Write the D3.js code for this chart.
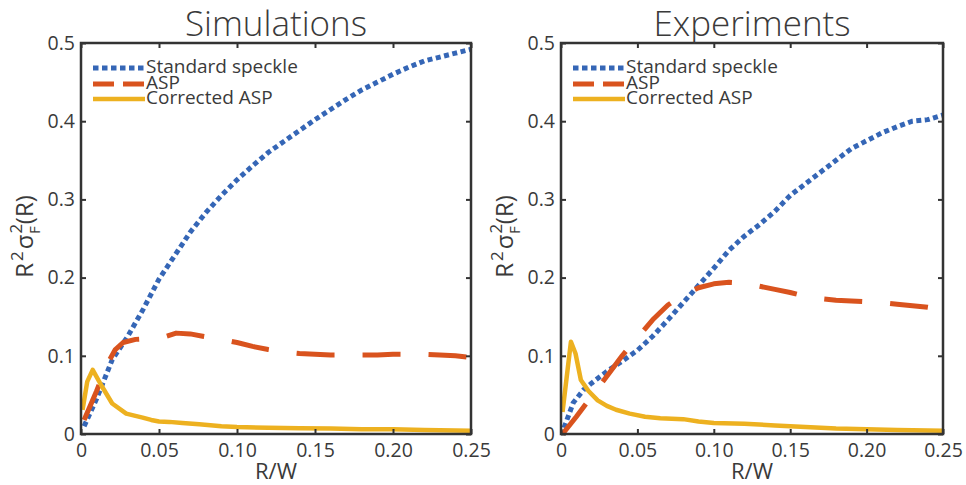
<!DOCTYPE html>
<html>
<head>
<meta charset="utf-8">
<script src="https://cdn.jsdelivr.net/npm/d3@7/dist/d3.min.js"></script>
<style>
  html, body { margin: 0; padding: 0; background: #ffffff; }
  svg { display: block; }
  text { font-family: "Open Sans", "Noto Sans", sans-serif; fill: #3a3a3a; }
</style>
</head>
<body>
<svg id="chart" width="966" height="485"></svg>
<script>
// ---- axis ticks ----
const xTickValues = [0, 0.05, 0.10, 0.15, 0.20, 0.25];
const xTickLabels = ["0", "0.05", "0.10", "0.15", "0.20", "0.25"];
const yTickValues = [0, 0.1, 0.2, 0.3, 0.4, 0.5];
const yTickLabels = ["0", "0.1", "0.2", "0.3", "0.4", "0.5"];

const seriesNames = ["Standard speckle", "ASP", "Corrected ASP"];
const panelTitles = ["Simulations", "Experiments"];

// ---- Simulations ----
const simSpeckleX = [0.002, 0.01, 0.02, 0.03, 0.04, 0.05, 0.06, 0.07, 0.08, 0.09, 0.10, 0.11, 0.12, 0.13, 0.14, 0.15, 0.16, 0.17, 0.18, 0.19, 0.20, 0.21, 0.22, 0.23, 0.24, 0.25];
const simSpeckleY = [0.010, 0.045, 0.095, 0.125, 0.160, 0.198, 0.228, 0.258, 0.283, 0.305, 0.325, 0.343, 0.360, 0.374, 0.388, 0.402, 0.415, 0.428, 0.440, 0.450, 0.460, 0.469, 0.477, 0.482, 0.487, 0.492];

const simAspX = [0.002, 0.010, 0.017, 0.022, 0.027, 0.035, 0.045, 0.053, 0.061, 0.07, 0.078, 0.09, 0.10, 0.11, 0.12, 0.13, 0.14, 0.15, 0.16, 0.17, 0.18, 0.19, 0.20, 0.21, 0.22, 0.23, 0.24, 0.25];
const simAspY = [0.018, 0.055, 0.090, 0.108, 0.117, 0.121, 0.122, 0.124, 0.129, 0.128, 0.125, 0.121, 0.117, 0.112, 0.108, 0.105, 0.103, 0.102, 0.101, 0.101, 0.101, 0.101, 0.102, 0.102, 0.102, 0.101, 0.100, 0.098];

const simCorrX = [0.001, 0.004, 0.0075, 0.0128, 0.020, 0.029, 0.0395, 0.045, 0.050, 0.0566, 0.065, 0.0758, 0.09, 0.10, 0.12, 0.14, 0.16, 0.18, 0.20, 0.22, 0.25];
const simCorrY = [0.031, 0.067, 0.082, 0.063, 0.039, 0.026, 0.021, 0.018, 0.016, 0.0155, 0.014, 0.0124, 0.010, 0.009, 0.008, 0.0075, 0.007, 0.006, 0.006, 0.005, 0.004];

// ---- Experiments ----
const expSpeckleX = [0.002, 0.008, 0.015, 0.02, 0.03, 0.04, 0.05, 0.06, 0.07, 0.08, 0.09, 0.10, 0.11, 0.12, 0.13, 0.14, 0.15, 0.16, 0.17, 0.18, 0.19, 0.20, 0.21, 0.22, 0.23, 0.24, 0.25];
const expSpeckleY = [0.008, 0.040, 0.057, 0.065, 0.080, 0.093, 0.107, 0.125, 0.146, 0.168, 0.190, 0.212, 0.235, 0.253, 0.268, 0.285, 0.305, 0.320, 0.335, 0.350, 0.365, 0.375, 0.385, 0.393, 0.400, 0.402, 0.408];

const expAspX = [0.001, 0.01, 0.02, 0.03, 0.04, 0.05, 0.06, 0.07, 0.08, 0.09, 0.10, 0.11, 0.12, 0.13, 0.14, 0.15, 0.16, 0.17, 0.18, 0.19, 0.20, 0.21, 0.22, 0.23, 0.24, 0.25];
const expAspY = [0.000, 0.022, 0.048, 0.074, 0.100, 0.123, 0.146, 0.165, 0.178, 0.187, 0.192, 0.194, 0.193, 0.189, 0.185, 0.181, 0.176, 0.173, 0.171, 0.170, 0.169, 0.168, 0.166, 0.164, 0.162, 0.159];

const expCorrX = [0.001, 0.0065, 0.0095, 0.013, 0.018, 0.024, 0.030, 0.036, 0.045, 0.055, 0.065, 0.080, 0.09, 0.10, 0.12, 0.14, 0.16, 0.18, 0.20, 0.22, 0.25];
const expCorrY = [0.028, 0.118, 0.103, 0.069, 0.055, 0.043, 0.036, 0.031, 0.026, 0.022, 0.020, 0.019, 0.016, 0.014, 0.013, 0.011, 0.009, 0.007, 0.006, 0.005, 0.004];

const zip = (xs, ys) => xs.map((x, i) => [x, ys[i]]);

// line styles per series
const styles = [
  { color: "#3566b6", width: 5, dash: "5,3.5", legendDash: "5.5,3.5" },
  { color: "#d9531e", width: 5, dash: "38,28", legendDash: "21,9" },
  { color: "#edb120", width: 4.5, dash: null, legendDash: null }
];

const panels = [
  { title: panelTitles[0], x0: 81, x1: 471, series: [zip(simSpeckleX, simSpeckleY), zip(simAspX, simAspY), zip(simCorrX, simCorrY)] },
  { title: panelTitles[1], x0: 561, x1: 943, series: [zip(expSpeckleX, expSpeckleY), zip(expAspX, expAspY), zip(expCorrX, expCorrY)] }
];

const yTop = 43, yBottom = 434;
const svg = d3.select("#chart");

panels.forEach((p, pi) => {
  const x = d3.scaleLinear().domain([0, 0.25]).range([p.x0, p.x1]);
  const y = d3.scaleLinear().domain([0, 0.5]).range([yBottom, yTop]);
  const g = svg.append("g");

  // data lines
  const line = d3.line().x(d => x(d[0])).y(d => y(d[1]));
  p.series.forEach((s, si) => {
    const st = styles[si];
    g.append("path")
      .datum(s)
      .attr("d", line)
      .attr("fill", "none")
      .attr("stroke", st.color)
      .attr("stroke-width", st.width)
      .attr("stroke-linejoin", "round")
      .attr("stroke-dasharray", st.dash);
  });

  // axes: ticks point inward on all four sides
  const tick = 5;
  const axisStyle = sel => {
    sel.select(".domain").remove();
    sel.selectAll(".tick line").attr("stroke", "#333").attr("stroke-width", 2);
    sel.selectAll(".tick text")
      .style("font-family", "'Open Sans', sans-serif")
      .style("font-size", "19.5px")
      .attr("fill", "#3a3a3a");
  };
  g.append("g").attr("transform", `translate(0,${yBottom})`)
    .call(d3.axisBottom(x).tickValues(xTickValues).tickSize(-tick).tickPadding(9)
      .tickFormat((d, i) => xTickLabels[i]))
    .call(axisStyle);
  g.append("g").attr("transform", `translate(0,${yTop})`)
    .call(d3.axisTop(x).tickValues(xTickValues).tickSize(-tick).tickFormat(""))
    .call(axisStyle);
  g.append("g").attr("transform", `translate(${p.x0},0)`)
    .call(d3.axisLeft(y).tickValues(yTickValues).tickSize(-tick).tickPadding(6)
      .tickFormat((d, i) => yTickLabels[i]))
    .call(axisStyle);
  g.append("g").attr("transform", `translate(${p.x1},0)`)
    .call(d3.axisRight(y).tickValues(yTickValues).tickSize(-tick).tickFormat(""))
    .call(axisStyle);

  // plot box
  g.append("rect")
    .attr("x", p.x0).attr("y", yTop)
    .attr("width", p.x1 - p.x0).attr("height", yBottom - yTop)
    .attr("fill", "none").attr("stroke", "#333").attr("stroke-width", 2.5);

  const cx = (p.x0 + p.x1) / 2;

  // title
  g.append("text")
    .attr("x", cx).attr("y", 36)
    .attr("text-anchor", "middle")
    .style("font-size", "35px").style("font-weight", 300)
    .attr("fill", "#222")
    .text(p.title);

  // x label
  g.append("text")
    .attr("x", cx).attr("y", 479)
    .attr("text-anchor", "middle")
    .style("font-size", "22px")
    .text("R/W");

  // y label: R²σ²_F(R)
  const yl = g.append("text")
    .attr("transform", `translate(${p.x0 - 48},${(yTop + yBottom) / 2 - 2}) rotate(-90)`)
    .attr("text-anchor", "middle")
    .style("font-size", "24px");
  yl.append("tspan").text("R");
  yl.append("tspan").attr("dx", 2).attr("dy", -10).style("font-size", "17px").text("2");
  yl.append("tspan").attr("dx", 2).attr("dy", 10).text("σ");
  yl.append("tspan").attr("dx", 1).attr("dy", -11).style("font-size", "17px").text("2");
  yl.append("tspan").attr("dx", -10).attr("dy", 18).style("font-size", "15px").text("F");
  yl.append("tspan").attr("dx", 2).attr("dy", -7).text("(R)");

  // legend
  const lx0 = p.x0 + 12, lx1 = p.x0 + 64;
  const rows = [68, 84, 99];
  seriesNames.forEach((name, si) => {
    const st = styles[si];
    g.append("line")
      .attr("x1", lx0).attr("x2", lx1)
      .attr("y1", rows[si]).attr("y2", rows[si])
      .attr("stroke", st.color).attr("stroke-width", st.width)
      .attr("stroke-dasharray", st.legendDash);
    g.append("text")
      .attr("x", lx1 + 1).attr("y", rows[si] + 5)
      .style("font-size", "19px")
      .text(name);
  });
});
</script>
</body>
</html>
